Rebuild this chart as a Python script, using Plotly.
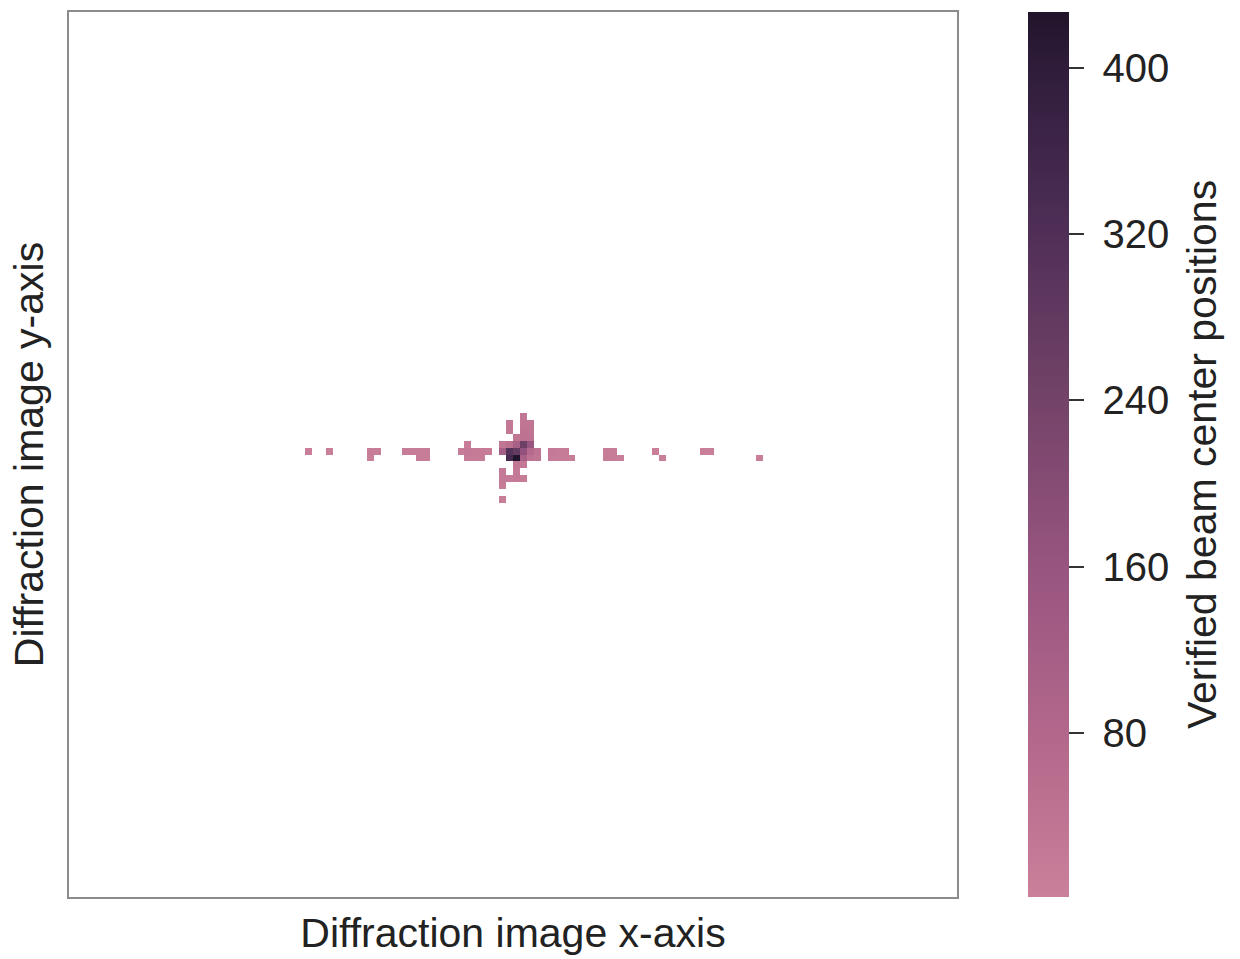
import plotly.graph_objects as go

# grid of the 2D histogram (128 x 128 bins)
n_bins = 128

# occupied bins: row index from top, column index from left, counts
cell_rows = [63, 63,
             63, 63, 64,
             63, 63, 63, 63, 64, 64,
             62, 63, 63, 63, 63, 63, 64, 64, 64,
             58, 59, 60, 59, 59, 60, 60, 61, 61, 61,
             62, 62, 62, 62, 62,
             63, 63, 63, 63, 63, 63,
             64, 64, 64, 64, 64,
             65, 65,
             66, 66, 67, 67, 67, 67, 68, 70,
             63, 63, 63, 64, 64, 64, 64,
             63, 63, 64, 64, 64,
             63, 64, 63, 63, 64]
cell_cols = [34, 37,
             43, 44, 43,
             48, 49, 50, 51, 50, 51,
             57, 56, 57, 58, 59, 60, 57, 58, 59,
             65, 63, 63, 65, 66, 65, 66, 64, 65, 66,
             62, 63, 64, 65, 66,
             62, 63, 64, 65, 66, 67,
             63, 64, 65, 66, 67,
             64, 65,
             62, 64, 62, 63, 64, 65, 62, 62,
             69, 70, 71, 69, 70, 71, 72,
             77, 78, 77, 78, 79,
             84, 85, 91, 92, 99]
cell_counts = [4, 4,
               8, 8, 6,
               10, 12, 10, 14, 12, 10,
               8, 10, 20, 18, 16, 12, 14, 16, 12,
               30, 25, 25, 35, 30, 40, 35, 30, 45, 40,
               30, 50, 110, 250, 160,
               120, 310, 270, 170, 70, 40,
               340, 427, 110, 45, 35,
               30, 25,
               20, 20, 20, 18, 22, 15, 15, 8,
               20, 18, 15, 18, 16, 14, 10,
               12, 10, 12, 10, 8,
               6, 6, 8, 6, 5]

cbar_ticks = [80, 160, 240, 320, 400]
cbar_labels = ['\u00a0' + str(t) for t in cbar_ticks]

z = [[None] * n_bins for _ in range(n_bins)]
for r, c, v in zip(cell_rows, cell_cols, cell_counts):
    z[r][c] = v

colorscale = [[0.0, '#ca7f9a'], [0.18, '#b3688b'], [0.37, '#985580'],
              [0.56, '#744369'], [0.75, '#502f57'], [0.94, '#2e1c3a'],
              [1.0, '#22142b']]

font = "Liberation Sans, Arial, sans-serif"

fig = go.Figure(go.Heatmap(
    z=z, x=list(range(n_bins)), y=list(range(n_bins)),
    colorscale=colorscale, zmin=1, zmax=427, hoverongaps=False,
    colorbar=dict(
        x=1.08, xanchor='left', xref='paper',
        y=0, yanchor='bottom', len=1, lenmode='fraction',
        thickness=41, ypad=0, xpad=0, outlinewidth=0,
        tickvals=cbar_ticks, ticktext=cbar_labels,
        ticks='outside', ticklen=15, tickwidth=2,
        tickcolor='#333333',
        tickfont=dict(family=font, size=40, color='#222222'),
    ),
))

fig.add_annotation(
    text='Verified beam center positions', textangle=-90,
    xref='paper', yref='paper', x=1.276, y=0.4994,
    xanchor='center', yanchor='middle', showarrow=False,
    font=dict(family=font, size=41, color='#222222'),
)

fig.update_layout(
    width=1240, height=959,
    margin=dict(l=69, r=283, t=10, b=62),
    paper_bgcolor='white', plot_bgcolor='white',
    xaxis=dict(range=[-0.5, n_bins - 0.5], showticklabels=False, ticks='',
               showgrid=False, zeroline=False, showline=True, mirror=True,
               linecolor='#8c8c8c', linewidth=2,
               title=dict(text='Diffraction image x-axis', standoff=20,
                          font=dict(family=font, size=41, color='#222222'))),
    yaxis=dict(range=[n_bins - 0.5, -0.5], showticklabels=False, ticks='',
               showgrid=False, zeroline=False, showline=True, mirror=True,
               linecolor='#8c8c8c', linewidth=2,
               title=dict(text='Diffraction image y-axis', standoff=11,
                          font=dict(family=font, size=41, color='#222222'))),
)

fig.write_html("out.html")
